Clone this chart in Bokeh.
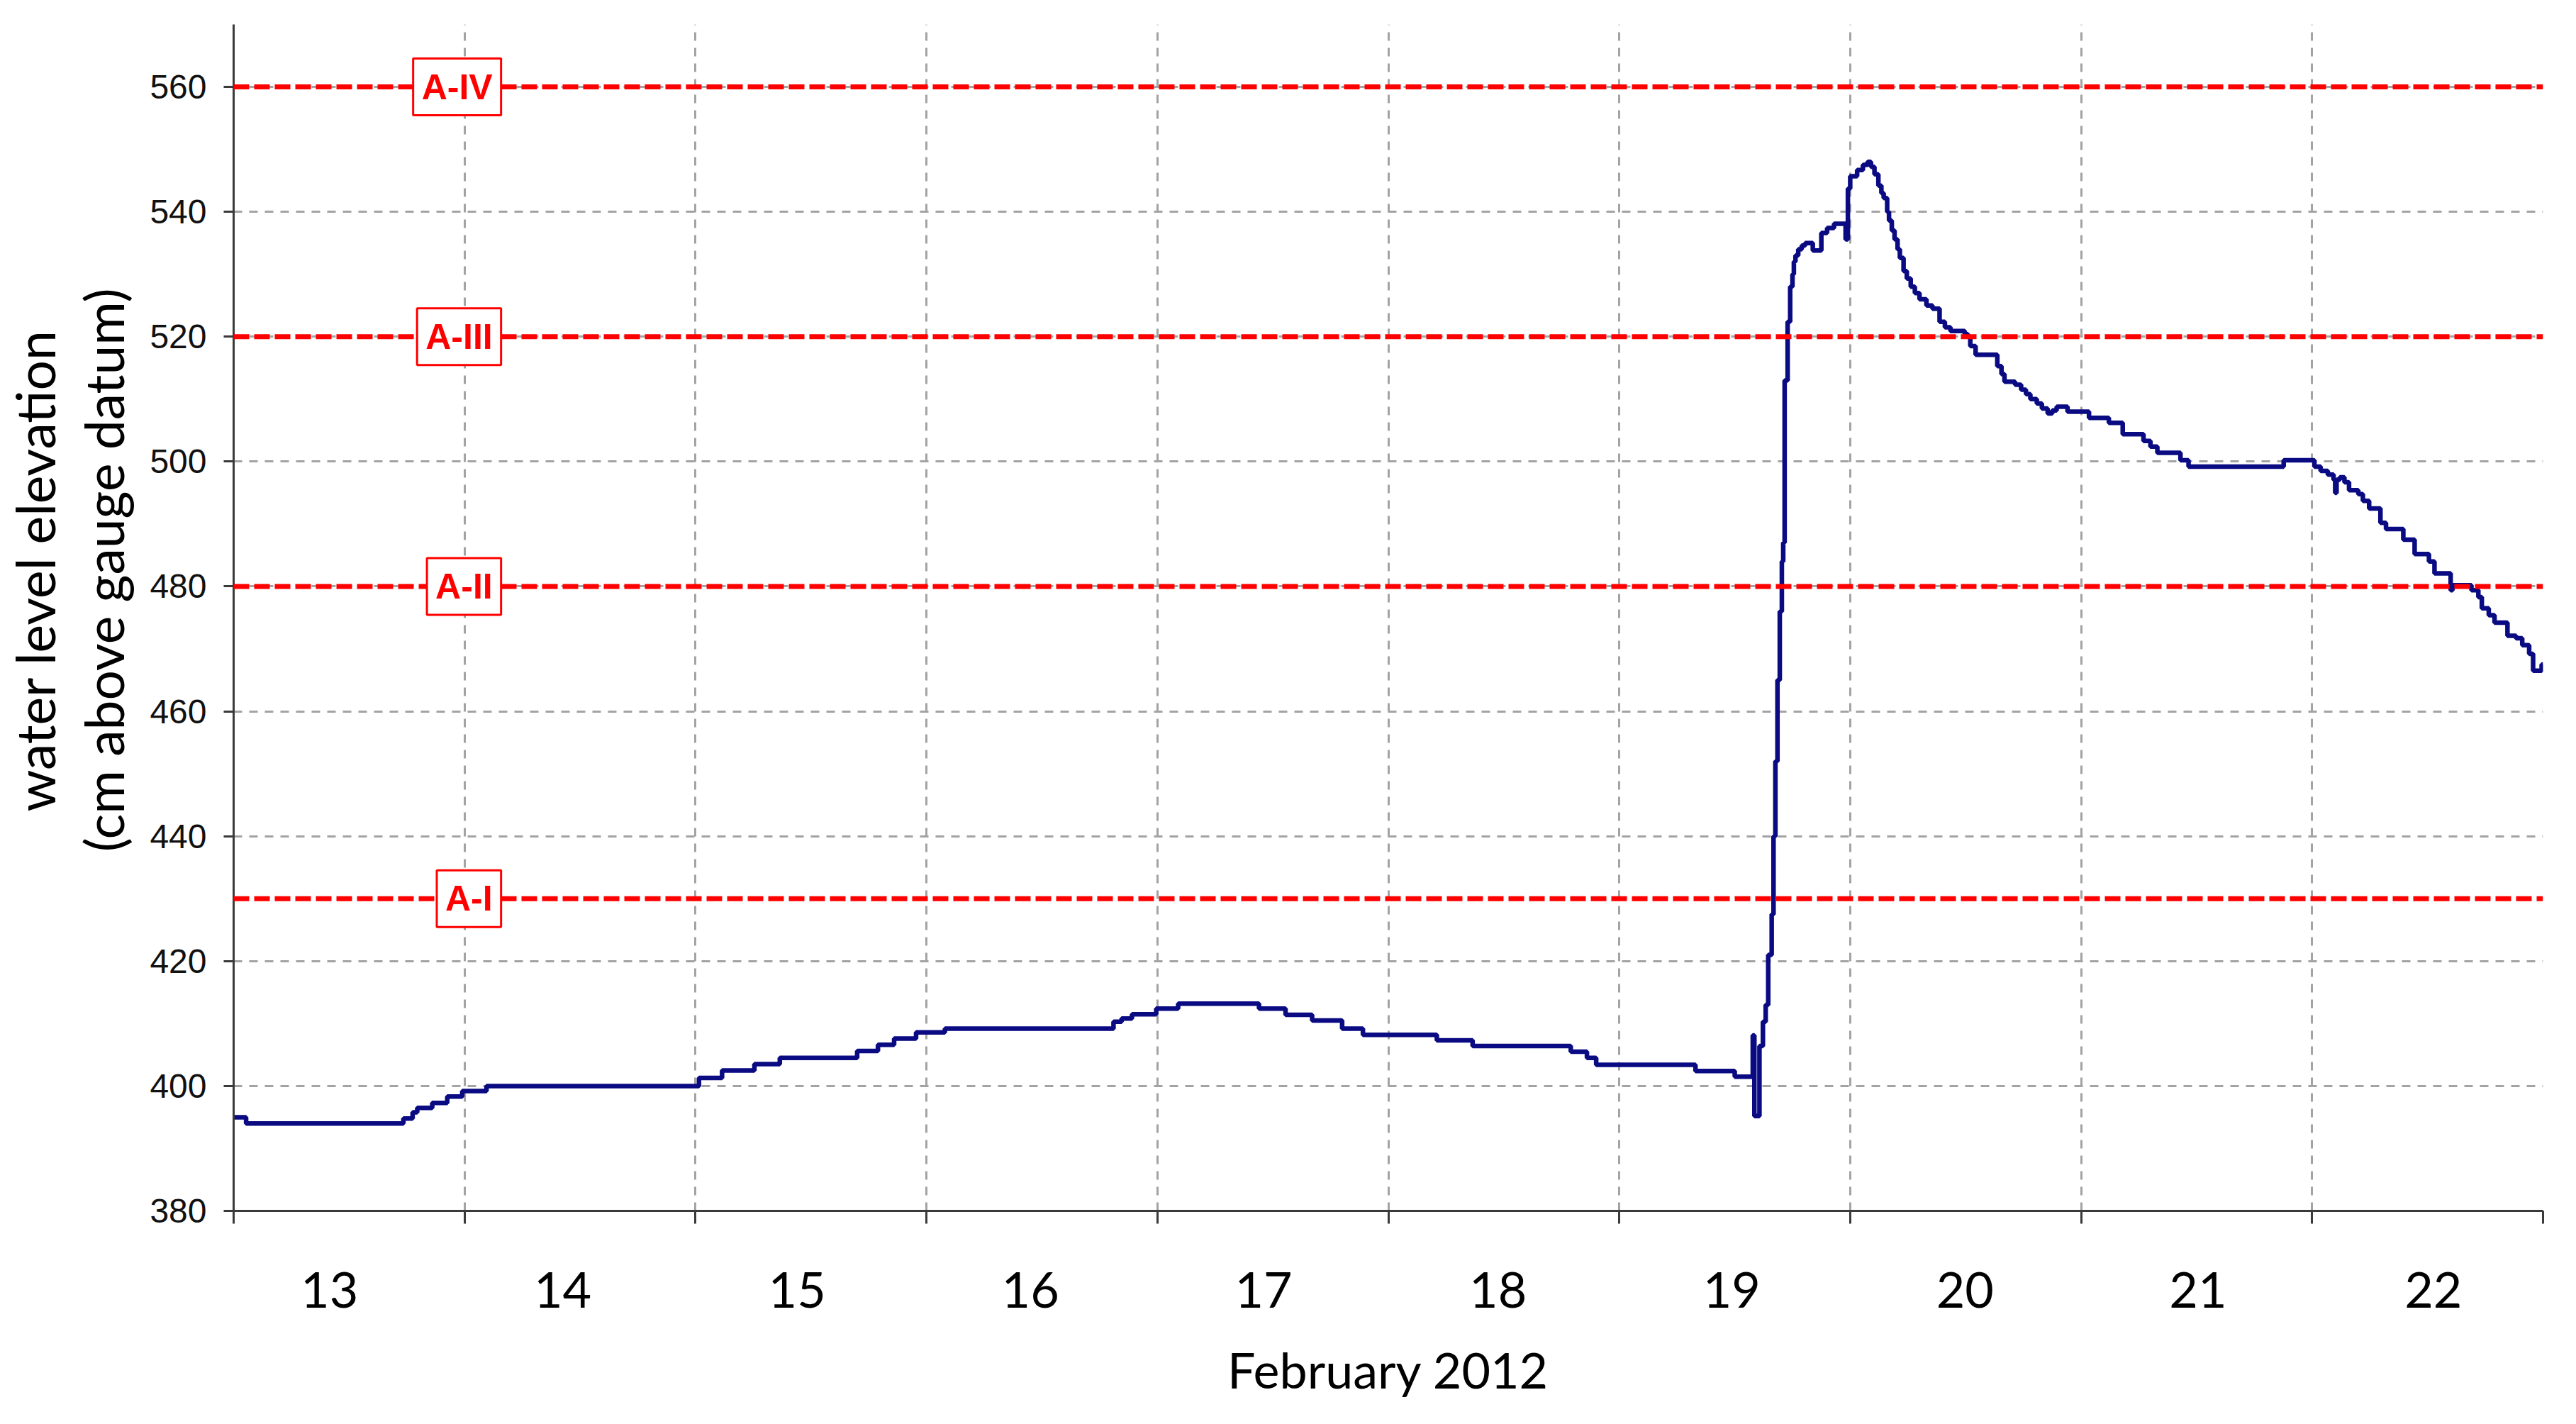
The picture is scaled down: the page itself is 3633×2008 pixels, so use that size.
from bokeh.plotting import figure
from bokeh.models import Range1d, FixedTicker, LinearAxis, Label, Span
from bokeh.embed import file_html
from bokeh.resources import INLINE

# ---- data (days since 13 Feb 2012 00:00, water level in cm) ----
day_labels = ["13", "14", "15", "16", "17", "18", "19", "20", "21", "22"]
label_positions = [0.415, 1.425, 2.44, 3.45, 4.46, 5.475, 6.487, 7.497, 8.506, 9.525]
day_boundaries = [0, 1, 2, 3, 4, 5, 6, 7, 8, 9, 10]
y_ticks = [380, 400, 420, 440, 460, 480, 500, 520, 540, 560]

threshold_names = ["A-I", "A-II", "A-III", "A-IV"]
threshold_levels = [430, 480, 520, 560]

t_days = [
    0.0, 0.054, 0.735, 0.775, 0.795, 0.86, 0.925, 0.99, 1.095,
    2.015, 2.115, 2.255, 2.365, 2.70, 2.79, 2.86, 2.955, 3.08,
    3.81, 3.845, 3.89, 3.995, 4.09, 4.44, 4.555, 4.67, 4.80, 4.89,
    5.21, 5.365, 5.79, 5.86, 5.90, 6.33, 6.50,
    6.578, 6.585, 6.607, 6.622, 6.634, 6.645, 6.66, 6.668, 6.676, 6.685,
    6.695, 6.704, 6.71, 6.716, 6.729, 6.74, 6.75, 6.756, 6.763, 6.775,
    6.79, 6.805, 6.838, 6.875, 6.90, 6.93, 6.98, 6.99, 7.0, 7.03, 7.055,
    7.075, 7.09, 7.105, 7.122, 7.135, 7.145, 7.16, 7.168, 7.18, 7.192,
    7.205, 7.215, 7.231, 7.245, 7.262, 7.28, 7.30, 7.33, 7.356, 7.387,
    7.41, 7.434, 7.496, 7.51, 7.52, 7.543, 7.637, 7.655, 7.668, 7.714,
    7.74, 7.761, 7.78, 7.808, 7.83, 7.855, 7.875, 7.894, 7.941, 8.034,
    8.12, 8.18, 8.27, 8.30, 8.33, 8.43, 8.465, 8.877, 9.01, 9.037,
    9.068, 9.093, 9.10, 9.106, 9.12, 9.14, 9.16, 9.20, 9.22, 9.247,
    9.296, 9.32, 9.395, 9.444, 9.506, 9.53, 9.60, 9.608, 9.69, 9.72,
    9.735, 9.765, 9.79, 9.846, 9.883, 9.91, 9.94, 9.957, 9.994, 10.0,
]
level_cm = [
    395, 394, 394.8, 395.8, 396.5, 397.3, 398.3, 399.2, 400,
    401.3, 402.5, 403.5, 404.5, 405.6, 406.6, 407.6, 408.6, 409.2,
    410.3, 410.8, 411.5, 412.4, 413.2, 412.4, 411.4, 410.5, 409.2, 408.2,
    407.3, 406.4, 405.5, 404.5, 403.4, 402.4, 401.5,
    408.1, 395.2, 406.4, 410.3, 413, 421, 427.5, 440, 452, 465,
    476, 484, 487, 513, 522.4, 528, 530, 532, 533, 534,
    534.6, 535, 533.8, 536.6, 537.4, 538.1, 535.6, 543.7, 545.7, 546.7, 547.5,
    548, 547.2, 546, 544.2, 543, 542.2, 540, 538.6, 537, 535.6,
    534, 532.6, 530.5, 529.3, 528, 527, 526, 525, 524.5, 522.4,
    521.5, 520.9, 520.4, 520, 518.5, 517.1, 515.3, 514, 512.8, 512.3,
    511.5, 510.8, 510, 509.3, 508.5, 507.7, 508.2, 508.8, 508, 507,
    506.2, 504.4, 503.3, 502.4, 501.4, 500.2, 499.2, 500.2, 499.2, 498.5,
    497.9, 497.1, 495, 497.1, 497.5, 496.7, 495.4, 494.8, 493.7, 492.5,
    490.2, 489.2, 487.5, 485.2, 484, 482.1, 479.4, 480.2, 479.4, 478.3,
    476.5, 475.4, 474.2, 472.1, 471.7, 470.6, 469.2, 466.5, 467.5, 467.5,
]

y_title_lines = ["water level elevation", "(cm above gauge datum)"]

AXIS_COLOR = "#3a3a3a"
GRID_COLOR = "#a3a3a3"
NBSP_LEAD = "\u00a0" * 7   # nudges the centred y titles a little upward, as in the original

p = figure(
    width=3617, height=1990,
    x_range=Range1d(0, 10), y_range=Range1d(380, 570),
    output_backend="svg", toolbar_location=None,
    min_border_left=323, min_border_right=31,
    min_border_top=34, min_border_bottom=283,
)
p.outline_line_color = None
p.background_fill_color = "white"
p.border_fill_color = "white"

# grids
p.xgrid.ticker = FixedTicker(ticks=day_boundaries[1:])
p.xgrid.grid_line_color = GRID_COLOR
p.xgrid.grid_line_width = 3
p.xgrid.grid_line_dash = "12 10"
p.ygrid.ticker = FixedTicker(ticks=y_ticks[1:])
p.ygrid.grid_line_color = GRID_COLOR
p.ygrid.grid_line_width = 3
p.ygrid.grid_line_dash = "12 10"

# x axis: labels at day centres, tick marks at day boundaries
xa = p.xaxis[0]
xa.ticker = FixedTicker(ticks=label_positions, minor_ticks=day_boundaries)
xa.major_label_overrides = {pos: lab for pos, lab in zip(label_positions, day_labels)}
xa.major_tick_out = 0
xa.major_tick_in = 0
xa.major_tick_line_color = None
xa.minor_tick_out = 18
xa.minor_tick_in = 0
xa.minor_tick_line_color = AXIS_COLOR
xa.minor_tick_line_width = 3
xa.axis_line_color = AXIS_COLOR
xa.axis_line_width = 3
xa.major_label_text_font = "Lato"
xa.major_label_text_font_size = "70px"
xa.major_label_text_color = "black"
xa.major_label_standoff = 68
xa.axis_label = "February 2012"
xa.axis_label_text_font = "Lato"
xa.axis_label_text_font_size = "70px"
xa.axis_label_text_font_style = "normal"
xa.axis_label_text_color = "black"
xa.axis_label_standoff = 42

# y axis
ya = p.yaxis[0]
ya.ticker = FixedTicker(ticks=y_ticks)
ya.major_tick_out = 14
ya.major_tick_in = 0
ya.major_tick_line_color = AXIS_COLOR
ya.major_tick_line_width = 3
ya.minor_tick_line_color = None
ya.axis_line_color = AXIS_COLOR
ya.axis_line_width = 3
ya.major_label_text_font = "Liberation Sans"
ya.major_label_text_font_size = "48px"
ya.major_label_text_color = "#111111"
ya.major_label_standoff = 24
ya.axis_label = NBSP_LEAD + y_title_lines[1]
ya.axis_label_text_font = "Lato"
ya.axis_label_text_font_size = "75px"
ya.axis_label_text_font_style = "normal"
ya.axis_label_text_color = "black"
ya.axis_label_standoff = 17

ya2 = LinearAxis(
    ticker=FixedTicker(ticks=[]),
    axis_label=NBSP_LEAD + y_title_lines[0],
    axis_label_text_font="Lato",
    axis_label_text_font_size="75px",
    axis_label_text_font_style="normal",
    axis_label_text_color="black",
    axis_label_standoff=5,
    axis_line_color=None,
    major_tick_out=0, major_tick_in=0,
    minor_tick_out=0, minor_tick_in=0,
    major_label_standoff=0,
)
p.add_layout(ya2, "left")

# data line
p.step(t_days, level_cm, mode="after", line_color="#0a0a82", line_width=6.5)

# threshold lines and labels
for name, lvl in zip(threshold_names, threshold_levels):
    p.add_layout(Span(location=lvl, dimension="width", line_color="#ff0000",
                      line_width=7, line_dash="22 7"))
for name, lvl in zip(threshold_names, threshold_levels):
    p.add_layout(Label(
        x=1.158, y=lvl, text=name,
        text_align="right", text_baseline="middle",
        text_color="#ff0000", text_font="Liberation Sans",
        text_font_style="bold", text_font_size="50px",
        background_fill_color="white", background_fill_alpha=1.0,
        border_line_color="#ff0000", border_line_width=3,
        padding=12,
    ))

open("out.html", "w").write(file_html(p, INLINE))
